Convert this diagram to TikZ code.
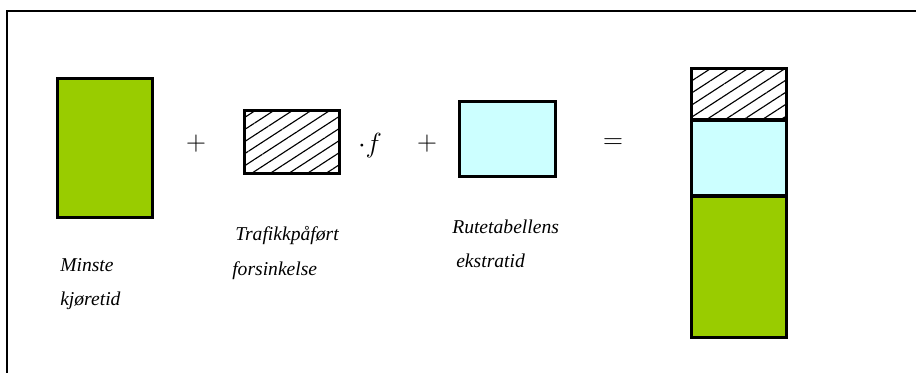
\documentclass[tikz,border=0pt]{standalone}
\usepackage{fontspec}
\setmainfont{Liberation Serif}
\usepackage{xcolor}
\usetikzlibrary{positioning,patterns.meta}

\definecolor{kjoregreen}{HTML}{99CC00}
\definecolor{ekstracyan}{HTML}{CCFFFF}

\tikzset{
  blokk/.style={draw, line width=2.2pt, inner sep=0pt, outer sep=0pt, minimum width=71.25pt},
  skravert/.style={pattern={Lines[angle=33,distance=7.6pt,line width=0.85pt]}},
  etikett/.style={anchor=base west, inner sep=0pt, font=\fontsize{14.7}{17}\selectfont\itshape},
  tegn/.style={inner sep=0pt, font=\fontsize{20}{22}\selectfont}
}

\begin{document}
\begin{tikzpicture}[x=0.75pt, y=-0.75pt]
\useasboundingbox (0,0) rectangle (916,373);
% ramme
\draw[line width=1.6pt] (7,373) -- (7,11) -- (916,11);

% ledd
\node[blokk, fill=kjoregreen, minimum height=104.25pt] (minste) at (105,148) {};
\node[tegn] (pluss1) at (196,144) {$+$};
\node[blokk, skravert, minimum height=47.25pt] (trafikk) at (292,142) {};
\node[tegn] (faktor) at (370,146) {$\cdot f$};
\node[tegn] (pluss2) at (427,144) {$+$};
\node[blokk, fill=ekstracyan, minimum width=72pt, minimum height=56.25pt] (rute) at (507.5,139) {};
\node[tegn] (lik) at (613,144) {$=$};

% sum, nedenfra og opp
\node[blokk, fill=kjoregreen, minimum height=106.1pt] (summinste) at (739,266.75) {};
\node[blokk, fill=ekstracyan, minimum height=57pt, above=0pt of summinste] (sumrute) {};
\node[blokk, skravert, minimum height=38.6pt, above=0pt of sumrute] (sumtrafikk) {};
\draw[line width=2.6pt] (sumrute.south west) -- (sumrute.south east);
\draw[line width=2.6pt] (sumrute.north west) -- (sumrute.north east);

% tekster
\node[etikett] (minsteA) at (60,272) {Minste};
\node[etikett] (minsteB) at (60,306) {kjøretid};
\node[etikett] (trafikkA) at (235,241) {Trafikkpåført};
\node[etikett] (trafikkB) at (232,276) {forsinkelse};
\node[etikett] (ruteA) at (452,234) {Rutetabellens};
\node[etikett] (ruteB) at (456,268) {ekstratid};
\end{tikzpicture}
\end{document}
